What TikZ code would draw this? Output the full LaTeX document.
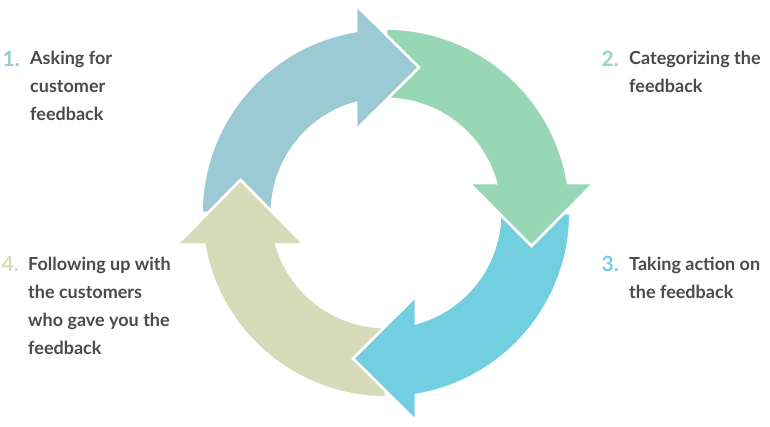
\documentclass[tikz,border=0pt]{standalone}
\usepackage{fontspec}
\setmainfont{Lato}
\definecolor{cblue}{RGB}{155,201,212}
\definecolor{cgreen}{RGB}{151,215,181}
\definecolor{ccyan}{RGB}{114,207,224}
\definecolor{colive}{RGB}{214,219,186}
\definecolor{ctext}{RGB}{74,74,74}
\tikzset{
  ring/.style={line width=2.7pt, draw=white, line join=miter},
  lbl/.style={anchor=base west, inner sep=0pt, text=ctext, font=\fontsize{18}{20}\selectfont\bfseries},
  num/.style={anchor=base east, inner sep=0pt, font=\fontsize{21}{24}\selectfont\bfseries},
}
\newcommand{\arrowshape}[1]{%
  \path[ring, fill=#1] (-114,0) arc[start angle=180, end angle=105.26, radius=114]
    -- (-30,83) -- (33,145.5) -- (-30,208) -- (-30,182.05)
    arc[start angle=99.36, end angle=180, radius=184.5] -- cycle;}
\begin{document}
\begin{tikzpicture}[x=1pt,y=1pt]
\useasboundingbox (0,0) rectangle (770,426);
\begin{scope}[shift={(386,213)}, rotate=90]\arrowshape{colive}\end{scope}
\begin{scope}[shift={(386,213)}, rotate=180]\arrowshape{ccyan}\end{scope}
\begin{scope}[shift={(386,213)}, rotate=-90]\arrowshape{cgreen}\end{scope}
\begin{scope}[shift={(386,213)}]\arrowshape{cblue}\end{scope}
\begin{scope}[shift={(386,213)}, rotate=90]
  \fill[colive] (-30,208) -- (33,145.5) -- (-30,83) -- cycle;
  \draw[ring] (-30,208) -- (33,145.5) -- (-30,83);
\end{scope}
% texts
\node[num, text=cblue] (n1) at (20,359.5) {1.};
\node[lbl] (t1a) at (30,361) {Asking for};
\node[lbl] (t1b) at (30,333) {customer};
\node[lbl] (t1c) at (30,305) {feedback};
\node[num, text=cgreen] (n2) at (619,359.5) {2.};
\node[lbl] (t2a) at (629,361) {Categorizing the};
\node[lbl] (t2b) at (629,333) {feedback};
\node[num, text=ccyan] (n3) at (619,154.5) {3.};
\node[lbl] (t3a) at (629,156) {Taking action on};
\node[lbl] (t3b) at (629,128) {the feedback};
\node[num, text=colive] (n4) at (19,154.5) {4.};
\node[lbl] (t4a) at (28,156) {Following up with};
\node[lbl] (t4b) at (28,128) {the customers};
\node[lbl] (t4c) at (28,100) {who gave you the};
\node[lbl] (t4d) at (28,72) {feedback};
\end{tikzpicture}
\end{document}
